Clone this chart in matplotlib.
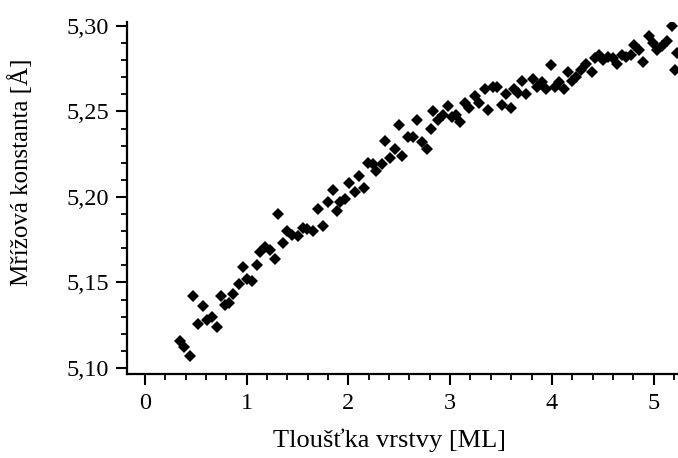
import numpy as np
import matplotlib.pyplot as plt
from matplotlib.ticker import MultipleLocator

# ==================== data ====================
tloustka = [0.34, 0.38, 0.44, 0.47, 0.52, 0.57, 0.61, 0.66, 0.71, 0.75,
            0.79, 0.83, 0.87, 0.92, 0.96, 1.00, 1.05, 1.10, 1.13, 1.18,
            1.23, 1.28, 1.31, 1.36, 1.40, 1.45, 1.50, 1.55, 1.59, 1.65,
            1.70, 1.75, 1.80, 1.85, 1.89, 1.92, 1.97, 2.01, 2.06, 2.10,
            2.15, 2.19, 2.24, 2.27, 2.33, 2.36, 2.41, 2.46, 2.50, 2.53,
            2.59, 2.63, 2.67, 2.72, 2.77, 2.81, 2.83, 2.88, 2.93, 2.98,
            3.02, 3.06, 3.10, 3.15, 3.19, 3.24, 3.28, 3.34, 3.37, 3.42,
            3.46, 3.51, 3.55, 3.60, 3.63, 3.67, 3.71, 3.75, 3.81, 3.85,
            3.90, 3.94, 3.99, 4.03, 4.07, 4.12, 4.16, 4.20, 4.24, 4.29,
            4.34, 4.39, 4.42, 4.46, 4.50, 4.55, 4.60, 4.64, 4.69, 4.73,
            4.78, 4.81, 4.86, 4.90, 4.95, 4.99, 5.03, 5.08, 5.13, 5.18,
            5.21, 5.23]
mrizova = [5.116, 5.112, 5.107, 5.142, 5.126, 5.136, 5.128, 5.130, 5.124, 5.142,
           5.137, 5.138, 5.143, 5.149, 5.159, 5.152, 5.151, 5.160, 5.168, 5.171,
           5.169, 5.164, 5.190, 5.173, 5.180, 5.178, 5.177, 5.182, 5.181, 5.180,
           5.193, 5.183, 5.197, 5.204, 5.192, 5.197, 5.199, 5.208, 5.203, 5.212,
           5.205, 5.220, 5.219, 5.215, 5.219, 5.233, 5.223, 5.228, 5.242, 5.224,
           5.235, 5.235, 5.245, 5.232, 5.228, 5.240, 5.250, 5.245, 5.248, 5.253,
           5.247, 5.248, 5.244, 5.255, 5.252, 5.259, 5.255, 5.263, 5.251, 5.264,
           5.264, 5.254, 5.260, 5.252, 5.263, 5.261, 5.268, 5.260, 5.269, 5.264,
           5.267, 5.263, 5.277, 5.264, 5.267, 5.263, 5.273, 5.268, 5.270, 5.274,
           5.278, 5.273, 5.281, 5.283, 5.280, 5.282, 5.281, 5.278, 5.283, 5.282,
           5.283, 5.289, 5.286, 5.279, 5.294, 5.290, 5.286, 5.288, 5.291, 5.300,
           5.274, 5.284]

xticks = [0, 1, 2, 3, 4, 5]
xticklabels = ['0', '1', '2', '3', '4', '5']
yticks = [5.10, 5.15, 5.20, 5.25, 5.30]
yticklabels = ['5,10', '5,15', '5,20', '5,25', '5,30']

plt.rcParams['font.family'] = ['Liberation Serif', 'DejaVu Serif']

fig = plt.figure(figsize=(6.78, 4.58), dpi=100)
ax = fig.add_axes([0.1873, 0.1834, 0.8127, 0.7686])

ax.plot(tloustka, mrizova, linestyle='none', marker='D', ms=6.6,
        color='black', markeredgewidth=0)

ax.set_xlim(-0.177, 5.24)
ax.set_ylim(5.0965, 5.3023)
ax.set_xticks(xticks)
ax.set_xticklabels(xticklabels)
ax.set_yticks(yticks)
ax.set_yticklabels(yticklabels)
ax.xaxis.set_minor_locator(MultipleLocator(0.2))
ax.yaxis.set_minor_locator(MultipleLocator(0.01))

for s in ['top', 'right']:
    ax.spines[s].set_visible(False)
for s in ['left', 'bottom']:
    ax.spines[s].set_linewidth(1.6)

ax.tick_params(axis='both', which='major', direction='out', length=8, width=1.5,
               labelsize=17.5)
ax.tick_params(axis='both', which='minor', direction='out', length=4.5, width=1.3)
ax.tick_params(axis='x', which='major', pad=6)
ax.tick_params(axis='y', which='major', pad=5)

ax.set_xlabel('Tloušťka vrstvy [ML]', fontsize=19)
ax.set_ylabel('Mřížová konstanta [Å]', fontsize=18)
ax.xaxis.set_label_coords(0.477, -0.155)
ax.yaxis.set_label_coords(-0.171, 0.574)

plt.savefig('out.png', dpi=100)
